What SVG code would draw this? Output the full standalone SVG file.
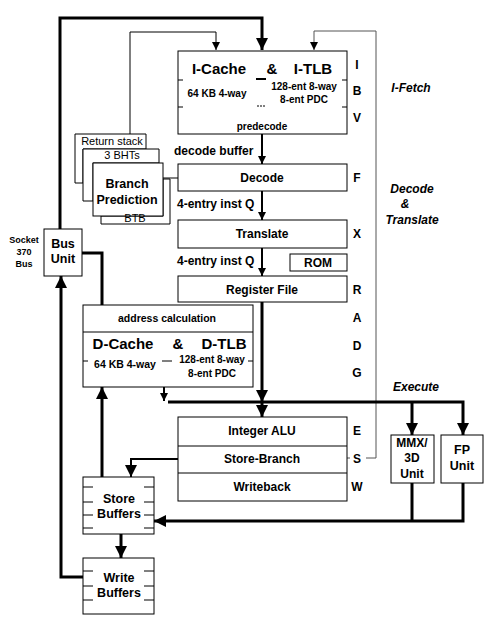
<svg xmlns="http://www.w3.org/2000/svg" width="500" height="636" viewBox="0 0 500 636">
<defs>
<style>
.t{font-family:"Liberation Sans",Arial,sans-serif;font-weight:bold;fill:#000;text-anchor:middle}
.r{font-weight:normal}
.i{font-style:italic}
.s{text-anchor:start}
.box{fill:#fff;stroke:#000;stroke-width:1}
.thin{fill:none;stroke:#000;stroke-width:1}
.grey{fill:none;stroke:#555;stroke-width:1}
.med{fill:none;stroke:#000;stroke-width:2}
.thick{fill:none;stroke:#000;stroke-width:3}
</style>
<marker id="a" markerUnits="userSpaceOnUse" markerWidth="8" markerHeight="8" refX="8" refY="4" orient="auto">
<path d="M0,0 L8,4 L0,8 z" fill="#000"/>
</marker>
<marker id="A" markerUnits="userSpaceOnUse" markerWidth="12" markerHeight="12" refX="12" refY="6" orient="auto">
<path d="M0,0 L12,6 L0,12 z" fill="#000"/>
</marker>
</defs>
<rect width="500" height="636" fill="#fff"/>

<g id="connectors">
<path class="thick" d="M60,229 V18 H262 V50" marker-end="url(#A)"/>
<path class="thin" d="M130,134 V32 H216 V50" marker-end="url(#a)"/>
<path class="grey" d="M366,458 H376 V31 H314 V50" marker-end="url(#a)"/>
<path class="grey" d="M340,458 H350"/>
<path class="med" d="M262,134 V164" marker-end="url(#a)"/>
<path class="thin" d="M178,178 H155" marker-end="url(#a)"/>
<path class="med" d="M262,191 V220" marker-end="url(#a)"/>
<path class="med" d="M262,248 V276" marker-end="url(#a)"/>
<path class="thick" d="M82,253 H102 V332" marker-end="url(#A)"/>
<path class="thick" d="M262,302 V402" marker-end="url(#A)"/>
<path class="thick" d="M262,402 V417" marker-end="url(#A)"/>
<path class="med" d="M164,387 V401" marker-end="url(#a)"/>
<path class="thick" d="M168,402 H463 V435" marker-end="url(#A)"/>
<path class="thick" d="M412,402 V435" marker-end="url(#A)"/>
<path class="thick" d="M412,483 V521"/>
<path class="thick" d="M463,483 V521 H154" marker-end="url(#A)"/>
<path class="med" d="M178,459 H131 V477" marker-end="url(#A)"/>
<path class="thick" d="M102,477 V387" marker-end="url(#A)"/>
<path class="thick" d="M121,534 V558" marker-end="url(#A)"/>
<path class="thick" d="M83,577 H61 V276" marker-end="url(#A)"/>
</g>

<g id="icache">
<rect class="box" x="178" y="51" width="169" height="83"/>
<path class="thin" d="M178,80 h5 M178,107 h5 M342,80 h5 M342,107 h5"/>
<path class="med" d="M256,79 h10"/>
<path class="thin" d="M257,106 h8" stroke-dasharray="2,1"/>
<text class="t" x="219" y="74" font-size="15">I-Cache</text>
<text class="t" x="272" y="74" font-size="15">&amp;</text>
<text class="t" x="313" y="74" font-size="15">I-TLB</text>
<text class="t" x="217" y="97" font-size="10">64 KB 4-way</text>
<text class="t" x="304" y="90" font-size="10">128-ent 8-way</text>
<text class="t" x="304" y="103" font-size="10">8-ent PDC</text>
<text class="t" x="262" y="130" font-size="10">predecode</text>
</g>

<g id="labels-left">
<text class="t s" x="174" y="155" font-size="12">decode buffer</text>
<text class="t s" x="177" y="208" font-size="12">4-entry inst Q</text>
<text class="t s" x="177" y="265" font-size="12">4-entry inst Q</text>
</g>

<g id="branch">
<path class="box" d="M75,183 V134 H146 V149 H83 V183 Z"/>
<path class="box" d="M83,201 V149 H159 V163 H93 V201 Z"/>
<path class="box" d="M101,216 V224 H170 V179 H163 V216 Z"/>
<rect class="box" x="93" y="163" width="70" height="53"/>
<text class="t r" x="112" y="145" font-size="11">Return stack</text>
<text class="t r" x="122" y="159" font-size="11">3 BHTs</text>
<text class="t" x="127" y="188" font-size="12.5">Branch</text>
<text class="t" x="127" y="204" font-size="12.5">Prediction</text>
<text class="t r" x="135" y="222" font-size="11">BTB</text>
</g>

<g id="decode">
<rect class="box" x="178" y="164" width="169" height="27"/>
<text class="t" x="262" y="182" font-size="12">Decode</text>
</g>

<g id="translate">
<rect class="box" x="178" y="220" width="169" height="28"/>
<text class="t" x="262" y="238" font-size="12">Translate</text>
</g>

<g id="rom">
<rect class="box" x="290" y="254" width="57" height="17"/>
<text class="t" x="318" y="267" font-size="12">ROM</text>
</g>

<g id="regfile">
<rect class="box" x="178" y="276" width="169" height="26"/>
<text class="t" x="262" y="294" font-size="12">Register File</text>
</g>

<g id="dcache">
<rect class="box" x="83" y="305" width="170" height="82"/>
<path class="thin" d="M83,332 H253 M83,361 h5 M248,361 h5 M162,361 h10"/>
<text class="t" x="167" y="322" font-size="10.5">address calculation</text>
<text class="t" x="123" y="349" font-size="15">D-Cache</text>
<text class="t" x="178" y="349" font-size="15">&amp;</text>
<text class="t" x="224" y="349" font-size="15">D-TLB</text>
<text class="t" x="125" y="368" font-size="10.5">64 KB 4-way</text>
<text class="t" x="212" y="363" font-size="10">128-ent 8-way</text>
<text class="t" x="212" y="377" font-size="10">8-ent PDC</text>
</g>

<g id="busunit">
<rect class="box" x="44" y="229" width="38" height="47"/>
<text class="t" x="63" y="248" font-size="12.5">Bus</text>
<text class="t" x="63" y="263" font-size="12.5">Unit</text>
<text class="t" x="24" y="243" font-size="9">Socket</text>
<text class="t" x="24" y="255" font-size="9">370</text>
<text class="t" x="24" y="267" font-size="9">Bus</text>
</g>

<g id="alu">
<rect class="box" x="178" y="417" width="169" height="84"/>
<path class="thin" d="M178,446 H347 M178,473 H347"/>
<text class="t" x="262" y="435" font-size="12">Integer ALU</text>
<text class="t" x="262" y="463" font-size="12">Store-Branch</text>
<text class="t" x="262" y="491" font-size="12">Writeback</text>
</g>

<g id="mmx">
<rect class="box" x="391" y="435" width="43" height="48"/>
<text class="t" x="412" y="447" font-size="12">MMX/</text>
<text class="t" x="412" y="462" font-size="12">3D</text>
<text class="t" x="412" y="478" font-size="12">Unit</text>
</g>

<g id="fp">
<rect class="box" x="441" y="435" width="42" height="48"/>
<text class="t" x="462" y="454" font-size="12.5">FP</text>
<text class="t" x="462" y="470" font-size="12.5">Unit</text>
</g>

<g id="storebuf">
<rect class="box" x="83" y="477" width="71" height="57"/>
<path class="thin" d="M83,487 h10 M83,502 h10 M83,515 h10 M83,528 h10 M144,487 h10 M144,502 h10 M144,515 h10 M144,528 h10"/>
<text class="t" x="119" y="503" font-size="12.5">Store</text>
<text class="t" x="119" y="518" font-size="12.5">Buffers</text>
</g>

<g id="writebuf">
<rect class="box" x="83" y="558" width="71" height="56"/>
<path class="thin" d="M83,571 h10 M83,586 h10 M83,600 h10 M144,571 h10 M144,586 h10 M144,600 h10"/>
<text class="t" x="119" y="582" font-size="12.5">Write</text>
<text class="t" x="119" y="597" font-size="12.5">Buffers</text>
</g>

<g id="stages">
<text class="t" x="357" y="69" font-size="12">I</text>
<text class="t" x="357" y="95" font-size="12">B</text>
<text class="t" x="357" y="122" font-size="12">V</text>
<text class="t" x="357" y="182" font-size="12">F</text>
<text class="t" x="357" y="238" font-size="12">X</text>
<text class="t" x="357" y="294" font-size="12">R</text>
<text class="t" x="357" y="322" font-size="12">A</text>
<text class="t" x="357" y="350" font-size="12">D</text>
<text class="t" x="357" y="377" font-size="12">G</text>
<text class="t" x="357" y="435" font-size="12">E</text>
<text class="t" x="357" y="463" font-size="12">S</text>
<text class="t" x="357" y="491" font-size="12">W</text>
</g>

<g id="phases">
<text class="t i" x="411" y="92" font-size="12">I-Fetch</text>
<text class="t i" x="412" y="193" font-size="12">Decode</text>
<text class="t i" x="405" y="208" font-size="12">&amp;</text>
<text class="t i" x="412" y="224" font-size="12">Translate</text>
<text class="t i" x="416" y="391" font-size="12">Execute</text>
</g>
</svg>
